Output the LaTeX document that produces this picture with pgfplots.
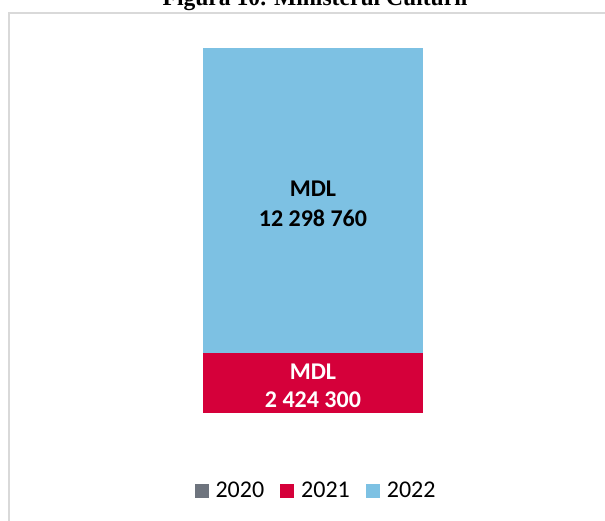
\documentclass[border=0pt]{standalone}
\usepackage{pgfplots}
\pgfplotsset{compat=1.18}
\usepackage{fontspec}
\setmainfont{Carlito}
\newfontfamily\titlefont{Liberation Serif}
\definecolor{cblue}{RGB}{125,193,227}
\definecolor{cred}{RGB}{213,0,58}
\definecolor{cgray}{RGB}{110,116,126}
\definecolor{cframe}{RGB}{217,217,217}
\begin{document}
\begin{tikzpicture}
\useasboundingbox (0,0) rectangle (302.5pt,260pt);
\clip (0,0) rectangle (302.5pt,260pt);
\fill[white] (0,0) rectangle (302.5pt,260pt);
\draw[cframe, line width=1pt] (4.5pt,-1pt) -- (4.5pt,253.5pt) -- (304pt,253.5pt);
\node[anchor=base, font=\titlefont\bfseries\fontsize{11.8}{13}\selectfont, inner sep=0pt] at (157.5pt,257pt) {Figura 10. Ministerul Culturii};
\begin{axis}[at={(4pt,53.5pt)}, anchor=south west, scale only axis,
  width=298pt, height=182.5pt,
  xmin=-1.386, xmax=1.323, ymin=0, ymax=14723060,
  hide axis, ybar stacked, bar width=1, clip=false,
  legend style={at={(0.5185,-0.215)}, anchor=center, draw=none, fill=none,
    legend columns=3, font=\fontsize{12}{14}\selectfont,
    /tikz/every even column/.append style={column sep=6pt}},
  legend image code/.code={\fill (0pt,-3.5pt) rectangle (7pt,3.5pt); \path (8.5pt,0pt);},
]
\addlegendimage{fill=cgray, draw=none}
\addlegendentry{2020}
\addplot[fill=cred, draw=none] coordinates {(0,2424300)};
\addlegendentry{2021}
\addplot[fill=cblue, draw=none] coordinates {(0,12298760)};
\addlegendentry{2022}
\coordinate (lred) at (axis cs:0,1097170);
\coordinate (lblue) at (axis cs:0,8454700);
\end{axis}
\node[align=center, text=white, font=\bfseries\fontsize{12}{14.2}\selectfont, anchor=center]
  at (lred) {MDL\\2 424 300};
\node[align=center, text=black, font=\bfseries\fontsize{12}{15}\selectfont, anchor=center]
  at (lblue) {MDL\\12 298 760};
\end{tikzpicture}
\end{document}
